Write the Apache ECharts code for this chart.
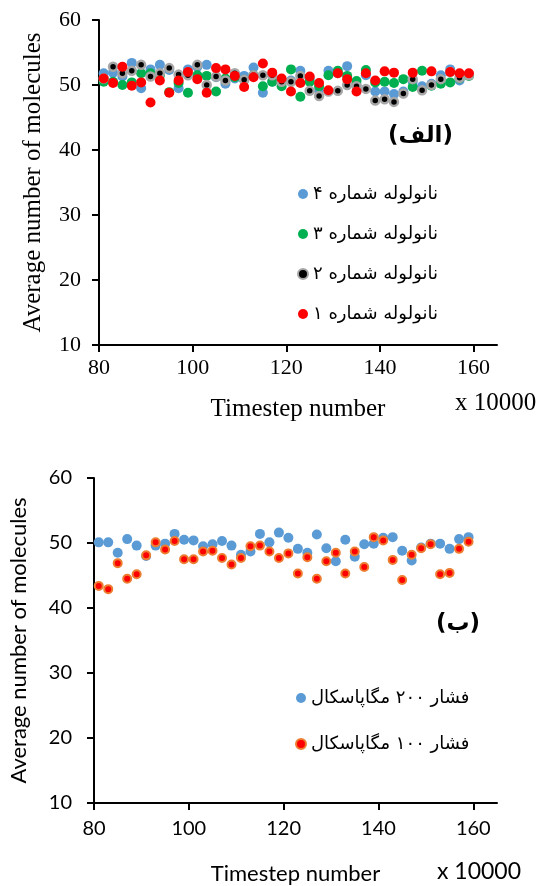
<!DOCTYPE html>
<html>
<head>
<meta charset="utf-8">
<script src="https://cdn.jsdelivr.net/npm/echarts@6/dist/echarts.min.js"></script>
<style>
  html, body { margin: 0; padding: 0; background: #fff; }
  #chart { width: 545px; height: 886px; }
</style>
</head>
<body>
<div id="chart"></div>
<script>
// timestep (x 10000), same for every series
const steps = [81, 83, 85, 87, 89, 91, 93, 95, 97, 99, 101, 103, 105, 107, 109, 111, 113, 115, 117, 119,
               121, 123, 125, 127, 129, 131, 133, 135, 137, 139, 141, 143, 145, 147, 149, 151, 153, 155, 157, 159];
const xTicks = [80, 100, 120, 140, 160];

// top chart (الف) - four nanotubes
const tubeNames = ['نانولوله شماره ۴', 'نانولوله شماره ۳', 'نانولوله شماره ۲', 'نانولوله شماره ۱'];
const tube4 = [51.8, 51.9, 51.3, 53.4, 49.5, 52.4, 53.1, 52.3, 49.5, 52.4, 52.8, 53.1, 51.2, 50.2, 51.0, 51.4, 52.7, 48.8, 50.5, 50.8,
               50.7, 52.2, 51.0, 49.2, 52.2, 51.8, 52.9, 50.0, 51.5, 49.0, 49.0, 48.6, 49.0, 50.5, 49.8, 50.2, 51.5, 52.4, 50.7, 51.5];
const tube3 = [50.5, 50.5, 50.0, 50.4, 51.8, 51.8, 51.5, 48.9, 50.3, 48.8, 51.5, 51.4, 49.0, 51.0, 51.2, 50.8, 51.5, 49.8, 50.5, 49.8,
               52.4, 48.2, 50.5, 49.8, 51.5, 52.2, 51.4, 50.6, 52.3, 50.4, 50.5, 50.3, 50.9, 49.7, 52.2, 49.9, 50.2, 50.4, 51.0, 51.4];
const tube2 = [51.0, 52.8, 51.8, 52.2, 53.1, 51.3, 51.8, 52.6, 51.6, 51.5, 53.1, 50.0, 51.3, 50.7, 51.8, 50.8, 51.5, 51.5, 51.5, 50.5,
               50.5, 51.4, 49.1, 48.3, 49.0, 49.1, 50.0, 49.8, 49.4, 47.6, 47.8, 47.4, 48.7, 50.9, 49.2, 50.0, 50.9, 52.0, 51.1, 51.5];
const tube1 = [51.0, 50.3, 52.8, 49.9, 50.4, 47.3, 50.7, 48.8, 50.7, 52.0, 50.9, 48.8, 52.6, 52.4, 51.4, 49.7, 51.2, 53.3, 51.9, 51.0,
               49.0, 50.3, 51.3, 50.3, 49.2, 51.8, 50.9, 49.0, 51.8, 50.7, 52.1, 51.9, null, 51.9, null, 52.1, null, 52.0, 51.8, 51.8];

// bottom chart (ب) - two pressures
const pressNames = ['فشار ۲۰۰ مگاپاسکال', 'فشار ۱۰۰ مگاپاسکال'];
const p200 = [50.1, 50.1, 48.5, 50.6, 49.6, 48.0, 49.6, 49.9, 51.4, 50.5, 50.4, 49.5, 49.8, 50.3, 49.6, 48.2, 48.7, 51.4, 50.1, 51.6,
              50.8, 49.1, 48.5, 51.3, 49.2, 47.2, 50.5, 47.9, 49.8, 49.9, 50.8, 50.9, 48.8, 47.3, 49.3, 49.9, 49.9, 49.1, 50.6, 50.9];
const p100 = [43.4, 42.9, 46.9, 44.5, 45.2, 48.1, 50.1, 49.0, 50.3, 47.5, 47.5, 48.7, 48.8, 47.7, 46.7, 47.7, 49.5, 49.6, 48.7, 47.7,
              48.4, 45.3, 47.8, 44.5, 47.2, 48.5, 45.3, 48.7, 46.3, 50.9, 50.4, 47.4, 44.3, 48.2, 49.2, 49.8, 45.2, 45.4, 49.1, 50.2];

const pts = arr => steps.map((x, i) => [x, arr[i] == null ? '-' : arr[i]]);

const serif = 'Liberation Serif';
const sans = 'Lato';
const fa = 'DejaVu Sans';

function xAx(grid, font, size, nameSize, margin, gap) {
  return {
    type: 'value', gridIndex: grid, min: 80, max: 165,
    name: 'Timestep number', nameLocation: 'middle', nameGap: gap,
    nameTextStyle: { fontFamily: font, fontSize: nameSize, color: '#000' },
    axisLine: { lineStyle: { color: '#000', width: 2 } },
    axisTick: { length: 7, lineStyle: { color: '#000', width: 2 }, customValues: xTicks },
    axisLabel: { fontFamily: font, fontSize: size, color: '#000', margin: margin, customValues: xTicks },
    splitLine: { show: false }
  };
}
function yAx(grid, font, size, nameSize, margin, gap) {
  return {
    type: 'value', gridIndex: grid, min: 10, max: 60, interval: 10,
    name: 'Average number of molecules', nameLocation: 'middle', nameGap: gap,
    nameTextStyle: { fontFamily: font, fontSize: nameSize, color: '#000' },
    axisLine: { show: true, lineStyle: { color: '#000', width: 2 } },
    axisTick: { show: true, length: 7, lineStyle: { color: '#000', width: 2 } },
    axisLabel: { fontFamily: font, fontSize: size, color: '#000', margin: margin },
    splitLine: { show: false }
  };
}

const chart = echarts.init(document.getElementById('chart'), null, { renderer: 'canvas' });
chart.setOption({
  animation: false,
  backgroundColor: '#fff',
  grid: [
    { left: 99, top: 20, width: 398, height: 325 },
    { left: 90, top: 478, width: 407, height: 327 }
  ],
  xAxis: [ xAx(0, serif, 22, 25, 12, 52), xAx(1, sans, 20, 22, 16, 60) ],
  yAxis: [ yAx(0, serif, 22, 25, 18, 53), yAx(1, sans, 20, 22, 22, 64) ],
  legend: [
    {
      data: tubeNames, orient: 'vertical', left: 292, top: 179,
      itemWidth: 10, itemHeight: 10, itemGap: 20, icon: 'circle',
      textStyle: { fontFamily: fa, fontSize: 18, color: '#000', lineHeight: 20 }
    },
    {
      data: pressNames, orient: 'vertical', left: 290, top: 683,
      itemWidth: 10, itemHeight: 10, itemGap: 26, icon: 'circle',
      textStyle: { fontFamily: fa, fontSize: 18, color: '#000', lineHeight: 20 }
    }
  ],
  graphic: [
    { type: 'text', left: 388, top: 125, style: { text: '(الف)', font: 'bold 23px "DejaVu Sans"', fill: '#000' } },
    { type: 'text', left: 436, top: 613, style: { text: '(ب)', font: 'bold 23px "DejaVu Sans"', fill: '#000' } },
    { type: 'text', left: 455, top: 391, style: { text: 'x 10000', font: '25px "Liberation Serif"', fill: '#000' } },
    { type: 'text', left: 437, top: 860, style: { text: 'x 10000', font: '23px Lato', fill: '#000' } }
  ],
  series: [
    { name: tubeNames[0], type: 'scatter', xAxisIndex: 0, yAxisIndex: 0, symbolSize: 10,
      itemStyle: { color: '#5b9bd5', opacity: 1 }, data: pts(tube4) },
    { name: tubeNames[1], type: 'scatter', xAxisIndex: 0, yAxisIndex: 0, symbolSize: 10,
      itemStyle: { color: '#00b050', opacity: 1 }, data: pts(tube3) },
    { name: tubeNames[2], type: 'scatter', xAxisIndex: 0, yAxisIndex: 0, symbolSize: 8,
      itemStyle: { color: '#000', borderColor: '#a6a6a6', borderWidth: 2.5, opacity: 1 }, data: pts(tube2) },
    { name: tubeNames[3], type: 'scatter', xAxisIndex: 0, yAxisIndex: 0, symbolSize: 10,
      itemStyle: { color: '#ff0000', opacity: 1 }, data: pts(tube1) },
    { name: pressNames[0], type: 'scatter', xAxisIndex: 1, yAxisIndex: 1, symbolSize: 10,
      itemStyle: { color: '#5b9bd5', opacity: 1 }, data: pts(p200) },
    { name: pressNames[1], type: 'scatter', xAxisIndex: 1, yAxisIndex: 1, symbolSize: 8,
      itemStyle: { color: '#ff0000', borderColor: '#ed7d31', borderWidth: 2, opacity: 1 }, data: pts(p100) }
  ]
});
</script>
</body>
</html>
